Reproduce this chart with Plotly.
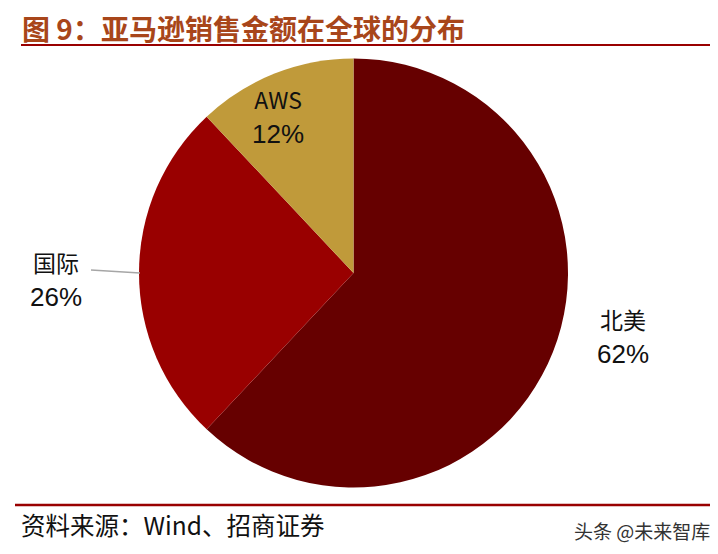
import plotly.graph_objects as go

labels = ["北美", "国际", "AWS"]
values = [62, 26, 12]
colors = ["#660000", "#990000", "#C09A3A"]
title_text = "图 9：亚马逊销售金额在全球的分布"
source_text = "资料来源：Wind、招商证券"
watermark = "头条 @未来智库"

# page has an 8px body margin; figure sized to fit inside the window
OFF = 8
W, H = 718 - OFF, 554 - OFF

def px(x):
    return (x - OFF) / W

def py(y):
    return 1 - (y - OFF) / H

fig = go.Figure()
fig.add_trace(go.Pie(
    labels=labels, values=values, sort=False, direction="clockwise", rotation=0,
    marker=dict(colors=colors, line=dict(width=0)),
    textinfo="none", hoverinfo="label+percent", showlegend=False,
    domain=dict(x=[px(139), px(568)], y=[py(488), py(58)]),
))

total = sum(values)
label_pos = {"北美": (623, 335), "国际": (56, 278), "AWS": (278, 116)}
annos = []
for lab, val in zip(labels, values):
    x, y = label_pos[lab]
    annos.append(dict(
        x=px(x), y=py(y), xref="paper", yref="paper", showarrow=False,
        text=f"<span style='font-family:Noto Sans CJK SC;font-size:23px'>{lab}</span><br>{round(val / total * 100)}%",
        font=dict(family="Liberation Sans, Arial", size=26, color="#111111"),
        align="center", xanchor="center", yanchor="middle",
    ))

annos.append(dict(x=px(20), y=py(28), xref="paper", yref="paper", showarrow=False,
                  text=f"<b>{title_text}</b>", xanchor="left", yanchor="middle",
                  font=dict(family="Noto Sans CJK SC", size=28, color="#A8461A")))
annos.append(dict(x=px(19), y=py(524), xref="paper", yref="paper", showarrow=False,
                  text=source_text, xanchor="left", yanchor="middle",
                  font=dict(family="Noto Sans CJK SC", size=24.5, color="#111111")))
annos.append(dict(x=px(712), y=py(530), xref="paper", yref="paper", showarrow=False,
                  text=watermark, xanchor="right", yanchor="middle",
                  font=dict(family="Noto Sans CJK SC", size=19, color="#333333")))

shapes = [
    dict(type="line", xref="paper", yref="paper", x0=px(21), x1=px(718), y0=py(45), y1=py(45),
         line=dict(color="#990000", width=2)),
    dict(type="line", xref="paper", yref="paper", x0=px(15), x1=px(712), y0=py(505), y1=py(505),
         line=dict(color="#990000", width=2.5)),
    dict(type="line", xref="paper", yref="paper", x0=px(91), x1=px(140), y0=py(270), y1=py(273),
         line=dict(color="#A6A6A6", width=1.5)),
]

fig.update_layout(
    width=W, height=H, margin=dict(l=0, r=0, t=0, b=0),
    paper_bgcolor="white", plot_bgcolor="white",
    annotations=annos, shapes=shapes,
)
fig.write_html("out.html")
